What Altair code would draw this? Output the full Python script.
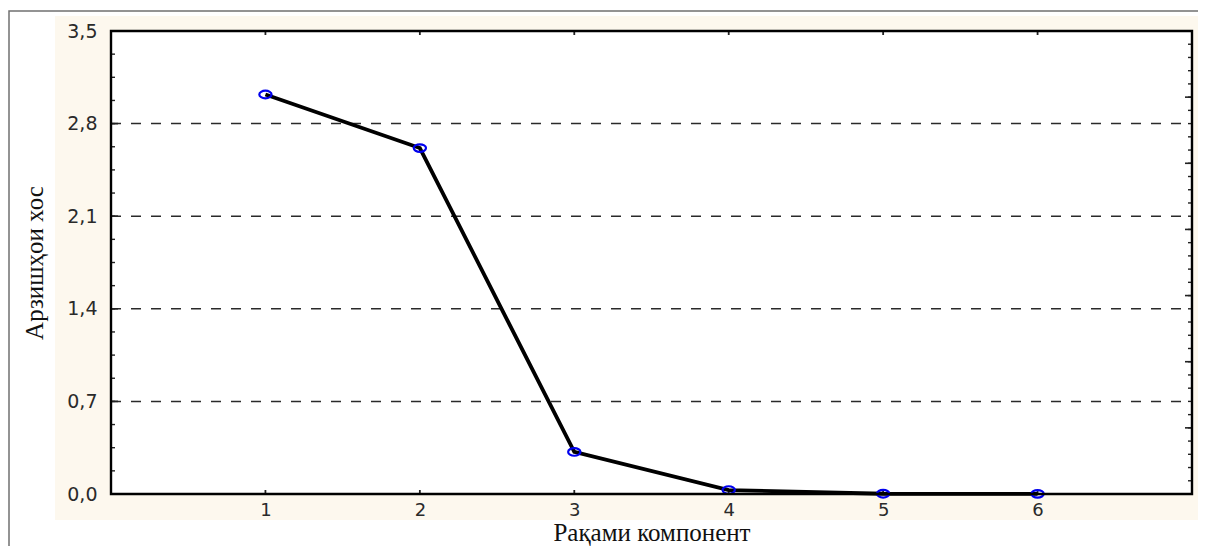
import altair as alt
import pandas as pd

# ---- data ----
components = [1, 2, 3, 4, 5, 6]
eigenvalues = [3.02, 2.615, 0.318, 0.03, 0.002, 0.001]
y_major = [0.0, 0.7, 1.4, 2.1, 2.8, 3.5]
y_grid = [0.7, 1.4, 2.1, 2.8]
x_ticks = [1, 2, 3, 4, 5, 6]
left_minor = [round(i * 0.175, 3) for i in range(21)]
right_minor = [round(i * 0.1, 2) for i in range(36)]
right_major = [0.0, 0.5, 1.0, 1.5, 2.0, 2.5, 3.0, 3.5]

x_title = "Рақами компонент"
y_title = "Арзишҳои хос"

W, H = 1081, 463

xs = alt.Scale(domain=[0, 7], nice=False, zero=False)
ys = alt.Scale(domain=[0, 3.5], nice=False, zero=False)

xaxis = alt.Axis(values=x_ticks, title=x_title, grid=False, domain=False, ticks=False, tickSize=0,
                 labelFont="DejaVu Sans", labelFontSize=18, labelColor="#2a2a2a",
                 labelPadding=7, titleFont="Liberation Serif", titleFontSize=25,
                 titleFontWeight="normal", titleColor="#111", titlePadding=1, zindex=2)
yaxis = alt.Axis(values=y_major, title=y_title, grid=False, domain=False, ticks=False, tickSize=0,
                 labelExpr="replace(format(datum.value, '.1f'), '.', ',')",
                 labelFont="DejaVu Sans", labelFontSize=19, labelColor="#2a2a2a",
                 labelPadding=14, titleFont="Liberation Serif", titleFontSize=25,
                 titleFontWeight="normal", titleColor="#111", titlePadding=19, zindex=2)

def X(field="x"):
    return alt.X(f"{field}:Q", scale=xs, axis=xaxis)

def Y(field="y"):
    return alt.Y(f"{field}:Q", scale=ys, axis=yaxis)

main = pd.DataFrame({"x": components, "y": eigenvalues})
one = pd.DataFrame({"k": [0]})

frame = alt.Chart(one).mark_rect(filled=False, stroke="#707070", strokeWidth=1.5).encode(
    x=alt.value(-102), x2=alt.value(1300), y=alt.value(-20), y2=alt.value(800))
cream = alt.Chart(one).mark_rect(fill="#fdf8ee").encode(
    x=alt.value(-56), x2=alt.value(1094), y=alt.value(-15), y2=alt.value(489))
white = alt.Chart(one).mark_rect(fill="white").encode(
    x=alt.value(0), x2=alt.value(W), y=alt.value(0), y2=alt.value(H))

grid = alt.Chart(pd.DataFrame({"y": y_grid})).mark_rule(
    color="#2a2a2a", strokeWidth=1.5, strokeDash=[10, 10]).encode(
    y=Y(), x=alt.value(0), x2=alt.value(W))

lminor = alt.Chart(pd.DataFrame({"y": left_minor})).mark_rule(color="#222", strokeWidth=1.4).encode(
    y=Y(), x=alt.value(0), x2=alt.value(4))
lmajor = alt.Chart(pd.DataFrame({"y": y_major})).mark_rule(color="#222", strokeWidth=1.6).encode(
    y=Y(), x=alt.value(0), x2=alt.value(7))
rminor = alt.Chart(pd.DataFrame({"y": right_minor})).mark_rule(color="#222", strokeWidth=1.4).encode(
    y=Y(), x=alt.value(W), x2=alt.value(W - 4))
rmajor = alt.Chart(pd.DataFrame({"y": right_major})).mark_rule(color="#222", strokeWidth=1.6).encode(
    y=Y(), x=alt.value(W), x2=alt.value(W - 7))
tticks = alt.Chart(pd.DataFrame({"x": x_ticks})).mark_rule(color="#222", strokeWidth=1.8).encode(
    x=X(), y=alt.value(0), y2=alt.value(4))
bticks = alt.Chart(pd.DataFrame({"x": x_ticks})).mark_rule(color="#222", strokeWidth=1.8).encode(
    x=X(), y=alt.value(H), y2=alt.value(H - 4))

line = alt.Chart(main).mark_line(color="black", strokeWidth=3.8).encode(x=X(), y=Y())
ellipse = "M -1 0 A 1 0.62 0 1 0 1 0 A 1 0.62 0 1 0 -1 0 Z"
points = alt.Chart(main).mark_point(shape=ellipse, filled=False, color="#0000ee",
                                    strokeWidth=2.2, size=150, opacity=1).encode(x=X(), y=Y())

box = alt.Chart(one).mark_rect(filled=False, stroke="black", strokeWidth=2.4).encode(
    x=alt.value(0), x2=alt.value(W), y=alt.value(0), y2=alt.value(H))

chart = alt.layer(
    frame, cream, white, grid, lminor, lmajor, rminor, rmajor, tticks, bticks, line, points, box
).properties(
    width=W, height=H, autosize="none",
    padding={"left": 103, "top": 23, "right": 6, "bottom": 52},
    background="white",
).configure_view(stroke=None)

chart.save("out.html", embed_options={"renderer": "svg", "actions": False})
